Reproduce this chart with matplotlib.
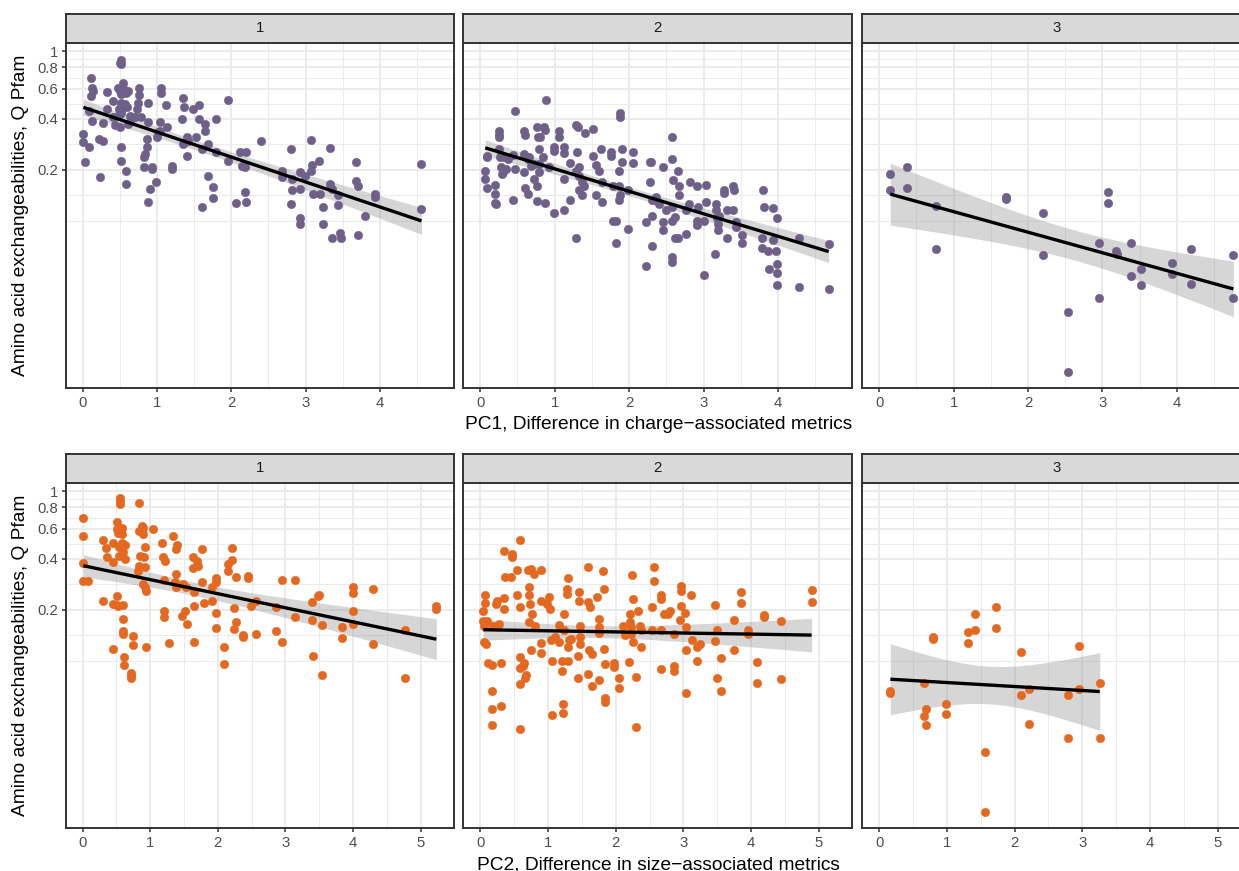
import matplotlib
import matplotlib.pyplot as plt
import numpy as np
from matplotlib.ticker import FixedLocator, NullFormatter

matplotlib.use("Agg")

plt.rcParams["font.family"] = ["Liberation Sans", "DejaVu Sans"]

PURPLE = "#6e6088"
ORANGE = "#e56820"

# ---- PC1 (top row), facets 1..3 ----
pc1_x_g1 = [
    0.01, 0.01, 0.03, 0.09, 0.09, 0.11, 0.11, 0.13, 0.14, 0.12,
    0.22, 0.23, 0.28, 0.28, 0.33, 0.33, 0.41, 0.41, 0.43, 0.47,
    0.50, 0.51, 0.51, 0.48, 0.50, 0.52, 0.55, 0.57, 0.59, 0.61,
    0.50, 0.52, 0.50, 0.52, 0.52, 0.58, 0.58, 0.57, 0.60, 0.61,
    0.70, 0.73, 0.75, 0.76, 0.76, 0.88, 0.88, 0.86, 0.86, 0.84,
    0.82, 0.82, 0.88, 0.91, 0.93, 0.99, 1.00, 1.04, 1.05, 1.05,
    1.04, 1.12, 1.13, 1.20, 1.20, 1.34, 1.35, 1.36, 1.35, 1.40,
    1.40, 1.42, 1.48, 1.53, 1.56, 1.56, 1.60, 1.61, 1.65, 1.65,
    1.69, 1.69, 1.75, 1.75, 1.79, 1.79, 1.95, 1.95, 2.07, 2.12,
    2.14, 2.18, 2.20, 2.18, 2.20, 2.40, 2.68, 2.68, 2.81, 2.82,
    2.82, 2.81, 2.92, 2.93, 2.93, 2.93, 2.99, 3.07, 3.08, 3.09,
    3.10, 3.18, 3.19, 3.24, 3.24, 3.33, 3.33, 3.35, 3.35, 3.43,
    3.43, 3.47, 3.48, 3.68, 3.68, 3.70, 3.70, 3.80, 3.93, 3.93,
    4.56, 4.56, 0.64, 0.64, 1.02, 0.93, 0.78, 0.49, 0.52, 0.52,
]
pc1_q_g1 = [
    0.324, 0.289, 0.221, 0.444, 0.270, 0.697, 0.544, 0.603, 0.582, 0.385,
    0.303, 0.182, 0.296, 0.376, 0.454, 0.574, 0.509, 0.406, 0.366, 0.415,
    0.854, 0.890, 0.835, 0.609, 0.582, 0.557, 0.652, 0.590, 0.569, 0.582,
    0.425, 0.444, 0.355, 0.270, 0.226, 0.195, 0.165, 0.486, 0.465, 0.371,
    0.406, 0.454, 0.497, 0.609, 0.549, 0.497, 0.379, 0.270, 0.303, 0.247,
    0.236, 0.206, 0.129, 0.154, 0.206, 0.168, 0.310, 0.379, 0.609, 0.562,
    0.339, 0.482, 0.358, 0.211, 0.202, 0.397, 0.532, 0.469, 0.283, 0.310,
    0.242, 0.296, 0.454, 0.310, 0.482, 0.397, 0.264, 0.120, 0.371, 0.336,
    0.283, 0.183, 0.158, 0.136, 0.400, 0.255, 0.513, 0.226, 0.127, 0.253,
    0.211, 0.206, 0.253, 0.148, 0.129, 0.296, 0.197, 0.180, 0.264, 0.176,
    0.151, 0.126, 0.193, 0.154, 0.103, 0.095, 0.184, 0.299, 0.197, 0.213,
    0.143, 0.226, 0.143, 0.120, 0.095, 0.267, 0.165, 0.154, 0.079, 0.141,
    0.124, 0.084, 0.079, 0.221, 0.172, 0.161, 0.082, 0.107, 0.143, 0.138,
    0.216, 0.117, 0.415, 0.379, 0.332, 0.202, 0.410, 0.454, 0.430, 0.497,
]

pc1_x_g2 = [
    0.085, 0.085, 0.067, 0.067, 0.085, 0.20, 0.20, 0.20, 0.21, 0.246,
    0.246, 0.246, 0.255, 0.264, 0.278, 0.29, 0.30, 0.32, 0.345, 0.367,
    0.434, 0.434, 0.47, 0.47, 0.59, 0.60, 0.59, 0.59, 0.60, 0.636,
    0.636, 0.66, 0.68, 0.725, 0.725, 0.757, 0.757, 0.757, 0.78, 0.79,
    0.79, 0.79, 0.80, 0.84, 0.86, 0.87, 0.87, 0.89, 0.93, 0.985,
    0.985, 0.985, 1.06, 1.06, 1.12, 1.12, 1.12, 1.12, 1.20, 1.21,
    1.28, 1.31, 1.28, 1.28, 1.30, 1.32, 1.33, 1.33, 1.37, 1.40,
    1.37, 1.41, 1.52, 1.52, 1.55, 1.55, 1.60, 1.63, 1.63, 1.62,
    1.755, 1.755, 1.78, 1.78, 1.82, 1.83, 1.876, 1.876, 1.87, 1.87,
    1.87, 1.876, 1.91, 1.91, 1.99, 1.99, 2.05, 2.05, 2.23, 2.23,
    2.28, 2.29, 2.28, 2.31, 2.31, 2.31, 2.36, 2.38, 2.40, 2.45,
    2.46, 2.46, 2.49, 2.575, 2.575, 2.59, 2.58, 2.58, 2.61, 2.62,
    2.65, 2.66, 2.67, 2.67, 2.575, 2.575, 2.76, 2.76, 2.82, 2.81,
    2.91, 2.91, 2.91, 2.92, 3.03, 3.03, 3.01, 3.01, 3.16, 3.17,
    3.17, 3.18, 3.19, 3.20, 3.21, 3.27, 3.27, 3.31, 3.31, 3.40,
    3.41, 3.40, 3.43, 3.43, 3.52, 3.52, 3.80, 3.81, 3.79, 3.79,
    3.87, 3.88, 3.93, 3.93, 3.97, 3.98, 3.99, 3.99, 3.99, 4.28,
    4.28, 4.68, 4.68,
]
pc1_q_g2 = [
    0.242, 0.236, 0.197, 0.176, 0.156, 0.162, 0.144, 0.127, 0.125, 0.336,
    0.318, 0.310, 0.264, 0.236, 0.206, 0.189, 0.193, 0.236, 0.202, 0.231,
    0.244, 0.133, 0.444, 0.202, 0.339, 0.321, 0.247, 0.193, 0.156, 0.231,
    0.144, 0.236, 0.209, 0.216, 0.176, 0.358, 0.161, 0.130, 0.313, 0.264,
    0.216, 0.193, 0.310, 0.236, 0.358, 0.342, 0.127, 0.513, 0.206, 0.259,
    0.270, 0.111, 0.339, 0.310, 0.272, 0.250, 0.116, 0.175, 0.219, 0.132,
    0.367, 0.355, 0.195, 0.079, 0.253, 0.206, 0.184, 0.152, 0.168, 0.161,
    0.142, 0.327, 0.347, 0.242, 0.213, 0.142, 0.195, 0.168, 0.129, 0.264,
    0.253, 0.242, 0.161, 0.0996, 0.0996, 0.0738, 0.434, 0.411, 0.195, 0.161,
    0.133, 0.141, 0.264, 0.221, 0.151, 0.0896, 0.255, 0.218, 0.0975, 0.054,
    0.221, 0.223, 0.168, 0.107, 0.0706, 0.132, 0.138, 0.130, 0.125, 0.206,
    0.098, 0.0876, 0.116, 0.313, 0.231, 0.174, 0.120, 0.100, 0.105, 0.079,
    0.079, 0.195, 0.161, 0.142, 0.0607, 0.0572, 0.0838, 0.116, 0.170, 0.125,
    0.161, 0.100, 0.0936, 0.120, 0.163, 0.129, 0.0996, 0.0477, 0.0639, 0.126,
    0.115, 0.103, 0.0961, 0.0876, 0.106, 0.152, 0.146, 0.116, 0.079, 0.159,
    0.152, 0.115, 0.0975, 0.0917, 0.0818, 0.0741, 0.152, 0.120, 0.079, 0.0693,
    0.066, 0.0515, 0.1185, 0.0766, 0.0663, 0.103, 0.0558, 0.0491, 0.042, 0.0793,
    0.0407, 0.0728, 0.0395,
]

pc1_x_g3 = [
    0.148, 0.148, 0.373, 0.373, 0.764, 0.764, 1.70, 1.70, 2.20, 2.20,
    2.535, 2.535, 2.95, 2.95, 3.07, 3.07, 3.18, 3.19, 3.39, 3.39,
    3.52, 3.52, 3.93, 3.93, 4.19, 4.19, 4.76, 4.76,
]
pc1_q_g3 = [
    0.189, 0.152, 0.206, 0.156, 0.122, 0.0681, 0.1375, 0.134, 0.111, 0.0625,
    0.0288, 0.0128, 0.0738, 0.0349, 0.148, 0.1263, 0.0663, 0.0634, 0.0738, 0.0470,
    0.0515, 0.0420, 0.0560, 0.0487, 0.0677, 0.0424, 0.0628, 0.0349,
]

# ---- PC2 (bottom row), facets 1..3 ----
pc2_x_g1 = [
    0.01, 0.01, 0.01, 0.01, 0.084, 0.296, 0.305, 0.345, 0.355, 0.443,
    0.443, 0.453, 0.453, 0.502, 0.512, 0.527, 0.512, 0.512, 0.527, 0.552,
    0.552, 0.552, 0.542, 0.542, 0.576, 0.576, 0.576, 0.60, 0.60, 0.626,
    0.626, 0.60, 0.60, 0.60, 0.61, 0.61, 0.709, 0.714, 0.714, 0.739,
    0.739, 0.837, 0.837, 0.823, 0.837, 0.847, 0.872, 0.887, 0.897, 0.906,
    0.921, 0.921, 0.887, 0.921, 0.931, 0.931, 1.044, 1.167, 1.192, 1.217,
    1.207, 1.207, 1.202, 1.281, 1.340, 1.379, 1.399, 1.379, 1.365, 1.379,
    1.463, 1.478, 1.517, 1.527, 1.537, 1.626, 1.635, 1.645, 1.645, 1.645,
    1.695, 1.709, 1.768, 1.768, 1.798, 1.916, 1.916, 1.970, 1.970, 1.970,
    1.970, 2.094, 2.094, 2.143, 2.143, 2.202, 2.212, 2.236, 2.266, 2.266,
    2.236, 2.365, 2.365, 2.448, 2.448, 2.488, 2.571, 2.571, 2.857, 2.857,
    2.956, 2.956, 3.148, 3.148, 3.399, 3.399, 3.409, 3.483, 3.493, 3.547,
    3.547, 3.842, 3.842, 4.0, 4.0, 4.0, 4.0, 4.296, 4.296, 4.773,
    4.773, 5.232, 5.232,
]
pc2_q_g1 = [
    0.697, 0.541, 0.374, 0.296, 0.296, 0.513, 0.226, 0.460, 0.406, 0.379,
    0.497, 0.216, 0.117, 0.213, 0.240, 0.209, 0.658, 0.597, 0.569, 0.905,
    0.872, 0.835, 0.465, 0.415, 0.603, 0.557, 0.497, 0.435, 0.214, 0.482,
    0.397, 0.176, 0.149, 0.144, 0.105, 0.0946, 0.085, 0.0811, 0.0793, 0.139,
    0.124, 0.846, 0.582, 0.339, 0.362, 0.415, 0.623, 0.603, 0.557, 0.406,
    0.469, 0.358, 0.283, 0.270, 0.257, 0.120, 0.597, 0.491, 0.406, 0.389,
    0.197, 0.182, 0.299, 0.127, 0.544, 0.454, 0.482, 0.324, 0.289, 0.270,
    0.184, 0.283, 0.197, 0.270, 0.165, 0.409, 0.351, 0.253, 0.209, 0.129,
    0.389, 0.362, 0.454, 0.292, 0.219, 0.226, 0.270, 0.305, 0.289, 0.191,
    0.156, 0.120, 0.0959, 0.371, 0.336, 0.460, 0.392, 0.204, 0.310, 0.168,
    0.154, 0.142, 0.138, 0.317, 0.306, 0.209, 0.226, 0.143, 0.149, 0.206,
    0.300, 0.129, 0.300, 0.180, 0.221, 0.174, 0.107, 0.239, 0.244, 0.163,
    0.0823, 0.157, 0.136, 0.270, 0.251, 0.195, 0.165, 0.264, 0.126, 0.152,
    0.079, 0.209, 0.202,
]

pc2_x_g2 = [
    0.074, 0.074, 0.044, 0.044, 0.059, 0.059, 0.084, 0.108, 0.173, 0.168,
    0.168, 0.168, 0.094, 0.182, 0.232, 0.242, 0.271, 0.306, 0.306, 0.355,
    0.345, 0.370, 0.454, 0.468, 0.468, 0.345, 0.537, 0.537, 0.587, 0.587,
    0.587, 0.587, 0.587, 0.587, 0.626, 0.651, 0.666, 0.676, 0.700, 0.725,
    0.725, 0.740, 0.750, 0.750, 0.764, 0.715, 0.814, 0.799, 0.897, 0.897,
    0.897, 0.897, 0.981, 1.021, 1.031, 1.045, 1.060, 1.060, 1.109, 1.159,
    1.159, 1.208, 1.208, 1.218, 1.218, 1.243, 1.243, 1.277, 1.277, 1.292,
    1.292, 1.292, 1.317, 1.341, 1.440, 1.440, 1.455, 1.455, 1.474, 1.474,
    1.474, 1.588, 1.588, 1.603, 1.627, 1.652, 1.588, 1.652, 1.721, 1.750,
    1.750, 1.750, 1.760, 1.810, 1.820, 1.820, 1.834, 1.834, 1.834, 1.967,
    1.967, 2.046, 2.046, 2.106, 2.130, 2.194, 2.204, 2.214, 2.229, 2.229,
    2.244, 2.253, 2.253, 2.293, 2.293, 2.327, 2.352, 2.377, 2.377, 2.539,
    2.539, 2.564, 2.564, 2.663, 2.673, 2.673, 2.663, 2.707, 2.771, 2.806,
    2.855, 2.855, 2.855, 2.944, 2.968, 2.968, 2.968, 3.018, 3.033, 3.043,
    3.043, 3.117, 3.126, 3.200, 3.240, 3.200, 3.471, 3.471, 3.501, 3.501,
    3.550, 3.550, 3.742, 3.742, 3.856, 3.856, 3.960, 3.960, 4.088, 4.088,
    4.191, 4.191, 4.433, 4.433, 4.892, 4.892,
]
pc2_q_g2 = [
    0.245, 0.219, 0.197, 0.172, 0.160, 0.129, 0.125, 0.0968, 0.0938, 0.0663,
    0.0515, 0.0420, 0.172, 0.161, 0.216, 0.226, 0.165, 0.0968, 0.0541, 0.233,
    0.202, 0.310, 0.313, 0.425, 0.410, 0.444, 0.245, 0.342, 0.513, 0.206,
    0.105, 0.0908, 0.0725, 0.0393, 0.0925, 0.0968, 0.0793, 0.0819, 0.342, 0.273,
    0.244, 0.216, 0.347, 0.115, 0.189, 0.168, 0.161, 0.324, 0.342, 0.226,
    0.127, 0.111, 0.216, 0.236, 0.202, 0.132, 0.0994, 0.0475, 0.138, 0.163,
    0.128, 0.0865, 0.100, 0.0558, 0.0492, 0.189, 0.151, 0.264, 0.247, 0.306,
    0.100, 0.120, 0.132, 0.135, 0.106, 0.079, 0.253, 0.226, 0.161, 0.138,
    0.125, 0.358, 0.221, 0.115, 0.208, 0.110, 0.0838, 0.0706, 0.236, 0.176,
    0.158, 0.145, 0.0766, 0.339, 0.264, 0.117, 0.0955, 0.0606, 0.0571, 0.0968,
    0.0917, 0.079, 0.0693, 0.161, 0.142, 0.0981, 0.189, 0.168, 0.158, 0.144,
    0.321, 0.231, 0.129, 0.080, 0.0407, 0.197, 0.159, 0.151, 0.120, 0.206,
    0.151, 0.355, 0.293, 0.151, 0.244, 0.231, 0.0896, 0.189, 0.189, 0.195,
    0.144, 0.0934, 0.0869, 0.174, 0.277, 0.256, 0.210, 0.191, 0.158, 0.116,
    0.0645, 0.245, 0.132, 0.120, 0.125, 0.100, 0.213, 0.130, 0.152, 0.0793,
    0.103, 0.0663, 0.174, 0.116, 0.255, 0.218, 0.151, 0.144, 0.0981, 0.0738,
    0.186, 0.180, 0.171, 0.0783, 0.262, 0.221,
]

pc2_x_g3 = [
    0.163, 0.163, 0.666, 0.691, 0.666, 0.691, 0.80, 0.80, 0.992, 0.992,
    1.308, 1.308, 1.417, 1.417, 1.555, 1.555, 1.728, 1.728, 2.088, 2.088,
    2.206, 2.206, 2.789, 2.789, 2.952, 2.952, 3.258, 3.258,
]
pc2_q_g3 = [
    0.0663, 0.0640, 0.0738, 0.0515, 0.0470, 0.0420, 0.1375, 0.1333, 0.0558, 0.0485,
    0.148, 0.1263, 0.189, 0.1515, 0.0288, 0.0128, 0.206, 0.156, 0.1117, 0.0625,
    0.0677, 0.0424, 0.0628, 0.0349, 0.1224, 0.0682, 0.0738, 0.0349,
]

Y_BREAKS = [0.2, 0.4, 0.6, 0.8, 1.0]
Y_LABELS = ["0.2", "0.4", "0.6", "0.8", "1"]
Y_TITLE = "Amino acid exchangeabilities, Q Pfam"

ROW_SPECS = [
    dict(xs=[pc1_x_g1, pc1_x_g2, pc1_x_g3], qs=[pc1_q_g1, pc1_q_g2, pc1_q_g3],
         colour=PURPLE, xticks=[0, 1, 2, 3, 4],
         title="PC1, Difference in charge\u2212associated metrics"),
    dict(xs=[pc2_x_g1, pc2_x_g2, pc2_x_g3], qs=[pc2_q_g1, pc2_q_g2, pc2_q_g3],
         colour=ORANGE, xticks=[0, 1, 2, 3, 4, 5],
         title="PC2, Difference in size\u2212associated metrics"),
]

# pixel layout of the reference
W, H = 1239, 871
COLS = [(65.7, 454.0), (463.3, 852.3), (862.3, 1251.0)]
ROWS = [(13.7, 42.7, 387.7), (453.7, 482.7, 827.7)]
TITLE_BASE = [429.0, 869.0]

GRID = "#ebebeb"
DARK = "#333333"


def rect(x0, y0, x1, y1):
    return [x0 / W, 1 - y1 / H, (x1 - x0) / W, (y1 - y0) / H]


def t975(df):
    z = 1.959964
    return z + (z ** 3 + z) / (4 * df) + (5 * z ** 5 + 16 * z ** 3 + 3 * z) / (96 * df ** 2)


def lm_band(x, q, n=80):
    x = np.asarray(x, float)
    ly = np.log10(np.asarray(q, float))
    slope, icpt = np.polyfit(x, ly, 1)
    xs = np.linspace(x.min(), x.max(), n)
    fit = icpt + slope * xs
    df = len(x) - 2
    s = np.sqrt(np.sum((ly - (icpt + slope * x)) ** 2) / df)
    se = s * np.sqrt(1 / len(x) + (xs - x.mean()) ** 2 / np.sum((x - x.mean()) ** 2))
    t = t975(df)
    return xs, 10 ** fit, 10 ** (fit - t * se), 10 ** (fit + t * se)


def minor_breaks(b, lo, hi):
    b = list(b)
    bd = b[1] - b[0]
    if lo < b[0]:
        b = [b[0] - bd] + b
    if hi > b[-1]:
        b = b + [b[-1] + bd]
    out = []
    for a, c in zip(b[:-1], b[1:]):
        out += [a, (a + c) / 2]
    out.append(b[-1])
    return [v for v in out if lo <= v <= hi]


all_q = np.concatenate([np.asarray(q) for r in ROW_SPECS for q in r["qs"]])
lq_lo, lq_hi = np.log10(all_q.min()), np.log10(all_q.max())
pad = 0.05 * (lq_hi - lq_lo)
lq_lo, lq_hi = lq_lo - pad, lq_hi + pad
y_minor = [10 ** v for v in minor_breaks(np.log10(Y_BREAKS), lq_lo, lq_hi)]

fig = plt.figure(figsize=(W / 100, H / 100), dpi=100)

for r, spec in enumerate(ROW_SPECS):
    s0, p0, p1 = ROWS[r]
    all_x = np.concatenate([np.asarray(x) for x in spec["xs"]])
    x_lo, x_hi = all_x.min(), all_x.max()
    xpad = 0.05 * (x_hi - x_lo)
    xlim = (x_lo - xpad, x_hi + xpad)
    x_minor = [v for v in np.arange(-0.5, xlim[1] + 0.5, 0.5) if xlim[0] <= v <= xlim[1]]

    for j in range(3):
        c0, c1 = COLS[j]
        ax = fig.add_axes(rect(c0, p0, c1, p1))
        ax.set_yscale("log")
        ax.yaxis.set_major_locator(FixedLocator(Y_BREAKS))
        ax.yaxis.set_minor_locator(FixedLocator(y_minor))
        ax.yaxis.set_minor_formatter(NullFormatter())
        ax.set_yticklabels(Y_LABELS)
        ax.set_xticks(spec["xticks"])
        ax.set_xticks(x_minor, minor=True)
        ax.set_xlim(*xlim)
        ax.set_ylim(10 ** lq_lo, 10 ** lq_hi)
        ax.grid(which="minor", color=GRID, linewidth=0.7)
        ax.grid(which="major", color=GRID, linewidth=1.4)
        ax.set_axisbelow(True)
        ax.tick_params(which="minor", length=0)
        ax.tick_params(which="major", length=3.2, width=1.1, color=DARK,
                       labelcolor="#4d4d4d", labelsize=10.7, pad=2.5)
        if j > 0:
            ax.tick_params(axis="y", left=False, labelleft=False)
        for sp in ax.spines.values():
            sp.set_color(DARK)
            sp.set_linewidth(1.4)
            sp.set_zorder(6)

        x, q = spec["xs"][j], spec["qs"][j]
        xs, fit, lo, hi = lm_band(x, q)
        ax.fill_between(xs, lo, hi, color="#999999", alpha=0.4, linewidth=0, zorder=2)
        ax.scatter(x, q, s=36, color=spec["colour"], edgecolors=spec["colour"],
                   linewidths=0.4, zorder=3)
        ax.plot(xs, fit, color="black", linewidth=2.4, zorder=4, solid_capstyle="butt")

        sax = fig.add_axes(rect(c0, s0, c1, p0))
        sax.set_facecolor("#d9d9d9")
        sax.set_xticks([])
        sax.set_yticks([])
        for sp in sax.spines.values():
            sp.set_color(DARK)
            sp.set_linewidth(1.4)
        sax.text(0.5, 0.5, str(j + 1), transform=sax.transAxes, ha="center",
                 va="center", fontsize=10.7, color="#1a1a1a")

    fig.text(658.4 / W, 1 - TITLE_BASE[r] / H, spec["title"], ha="center",
             va="baseline", fontsize=13.8, color="black")
    fig.text(21.0 / W, 1 - (p0 + p1) / 2 / H, Y_TITLE, rotation=90, ha="center",
             va="center", fontsize=13.8, color="black")

fig.savefig("out.png", dpi=100)
